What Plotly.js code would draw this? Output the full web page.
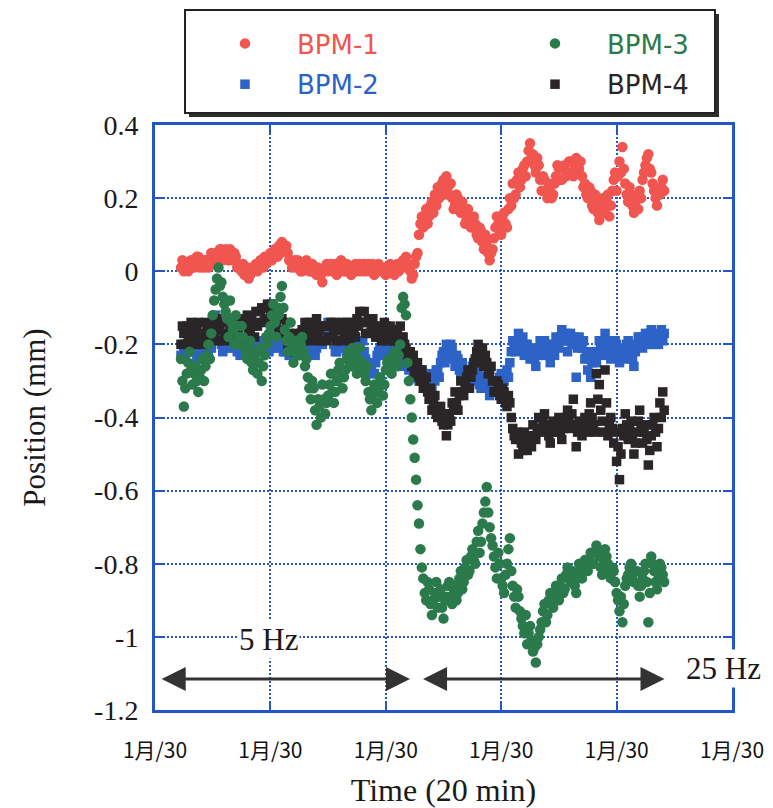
<!DOCTYPE html>
<html>
<head>
<meta charset="utf-8">
<script src="https://cdn.plot.ly/plotly-3.0.1.min.js"></script>
<style>
  html, body { margin: 0; padding: 0; background: #ffffff; }
  #chart { width: 773px; height: 808px; }
</style>
</head>
<body>
<div id="chart"></div>
<script>
// Beam position monitor readings, logged every 15 s on the same day.
// Elapsed minutes from 10:00, one row per 5 minutes.
const minutes = [
  4.5, 4.75, 5, 5.25, 5.5, 5.75, 6, 6.25, 6.5, 6.75, 7, 7.25, 7.5, 7.75, 8, 8.25, 8.5, 8.75, 9, 9.25,
  9.5, 9.75, 10, 10.25, 10.5, 10.75, 11, 11.25, 11.5, 11.75, 12, 12.25, 12.5, 12.75, 13, 13.25, 13.5, 13.75, 14, 14.25,
  14.5, 14.75, 15, 15.25, 15.5, 15.75, 16, 16.25, 16.5, 16.75, 17, 17.25, 17.5, 17.75, 18, 18.25, 18.5, 18.75, 19, 19.25,
  19.5, 19.75, 20, 20.25, 20.5, 20.75, 21, 21.25, 21.5, 21.75, 22, 22.25, 22.5, 22.75, 23, 23.25, 23.5, 23.75, 24, 24.25,
  24.5, 24.75, 25, 25.25, 25.5, 25.75, 26, 26.25, 26.5, 26.75, 27, 27.25, 27.5, 27.75, 28, 28.25, 28.5, 28.75, 29, 29.25,
  29.5, 29.75, 30, 30.25, 30.5, 30.75, 31, 31.25, 31.5, 31.75, 32, 32.25, 32.5, 32.75, 33, 33.25, 33.5, 33.75, 34, 34.25,
  34.5, 34.75, 35, 35.25, 35.5, 35.75, 36, 36.25, 36.5, 36.75, 37, 37.25, 37.5, 37.75, 38, 38.25, 38.5, 38.75, 39, 39.25,
  39.5, 39.75, 40, 40.25, 40.5, 40.75, 41, 41.25, 41.5, 41.75, 42, 42.25, 42.5, 42.75, 43, 43.25, 43.5, 43.75, 44, 44.25,
  44.5, 44.75, 45, 45.25, 45.5, 45.75, 46, 46.25, 46.5, 46.75, 47, 47.25, 47.5, 47.75, 48, 48.25, 48.5, 48.75, 49, 49.25,
  49.5, 49.75, 50, 50.25, 50.5, 50.75, 51, 51.25, 51.5, 51.75, 52, 52.25, 52.5, 52.75, 53, 53.25, 53.5, 53.75, 54, 54.25,
  54.5, 54.75, 55, 55.25, 55.5, 55.75, 56, 56.25, 56.5, 56.75, 57, 57.25, 57.5, 57.75, 58, 58.25, 58.5, 58.75, 59, 59.25,
  59.5, 59.75, 60, 60.25, 60.5, 60.75, 61, 61.25, 61.5, 61.75, 62, 62.25, 62.5, 62.75, 63, 63.25, 63.5, 63.75, 64, 64.25,
  64.5, 64.75, 65, 65.25, 65.5, 65.75, 66, 66.25, 66.5, 66.75, 67, 67.25, 67.5, 67.75, 68, 68.25, 68.5, 68.75, 69, 69.25,
  69.5, 69.75, 70, 70.25, 70.5, 70.75, 71, 71.25, 71.5, 71.75, 72, 72.25, 72.5, 72.75, 73, 73.25, 73.5, 73.75, 74, 74.25,
  74.5, 74.75, 75, 75.25, 75.5, 75.75, 76, 76.25, 76.5, 76.75, 77, 77.25, 77.5, 77.75, 78, 78.25, 78.5, 78.75, 79, 79.25,
  79.5, 79.75, 80, 80.25, 80.5, 80.75, 81, 81.25, 81.5, 81.75, 82, 82.25, 82.5, 82.75, 83, 83.25, 83.5, 83.75, 84, 84.25,
  84.5, 84.75, 85, 85.25, 85.5, 85.75, 86, 86.25, 86.5, 86.75, 87, 87.25, 87.5, 87.75, 88, 88.25
];

// Position (mm)
const bpm1 = [
  0.01, 0.03, 0.00, 0.02, 0.02, 0.00, 0.01, 0.03, 0.03, 0.01, 0.02, 0.04, 0.04, 0.01, 0.02, 0.03, 0.01, 0.03, 0.03, 0.01,
  0.02, 0.05, 0.04, 0.02, 0.05, 0.03, 0.03, 0.06, 0.06, 0.03, 0.04, 0.06, 0.05, 0.03, 0.06, 0.04, 0.03, 0.05, 0.04, 0.01,
  0.02, 0.01, 0.00, 0.02, -0.01, 0.01, 0.01, -0.02, -0.01, 0.01, 0.00, 0.01, 0.02, 0.00, 0.01, 0.03, 0.03, 0.01, 0.04, 0.02,
  0.03, 0.04, 0.05, 0.03, 0.04, 0.06, 0.06, 0.04, 0.07, 0.05, 0.08, 0.06, 0.06, 0.07, 0.05, 0.03, 0.03, 0.01, 0.02, 0.03,
  0.01, 0.03, 0.02, 0.00, 0.00, 0.02, 0.01, 0.03, 0.02, 0.00, 0.00, 0.02, 0.01, 0.00, -0.01, 0.01, 0.00, -0.01, -0.03, 0.00,
  0.01, 0.02, 0.00, 0.01, 0.02, 0.00, 0.01, 0.02, -0.01, 0.00, 0.01, 0.03, 0.02, 0.00, 0.00, 0.02, 0.01, 0.00, -0.01, 0.01,
  0.01, 0.02, 0.00, 0.01, 0.02, 0.00, 0.01, 0.02, 0.00, 0.01, 0.02, 0.00, 0.01, 0.02, -0.01, 0.01, 0.00, 0.02, 0.01, 0.00,
  0.00, 0.01, -0.01, 0.00, 0.01, 0.02, 0.00, 0.01, -0.01, 0.00, 0.02, 0.00, 0.01, 0.02, 0.03, 0.01, 0.04, 0.01, 0.02, 0.00,
  -0.02, -0.01, 0.02, 0.04, 0.05, 0.10, 0.13, 0.15, 0.12, 0.14, 0.17, 0.13, 0.15, 0.18, 0.19, 0.16, 0.21, 0.18, 0.23, 0.20,
  0.22, 0.24, 0.25, 0.21, 0.26, 0.23, 0.21, 0.24, 0.20, 0.17, 0.18, 0.21, 0.20, 0.17, 0.16, 0.19, 0.17, 0.13, 0.14, 0.17,
  0.15, 0.12, 0.12, 0.15, 0.13, 0.10, 0.09, 0.12, 0.11, 0.08, 0.06, 0.10, 0.08, 0.05, 0.03, 0.05, 0.06, 0.09, 0.12, 0.15,
  0.13, 0.11, 0.10, 0.14, 0.16, 0.13, 0.12, 0.17, 0.20, 0.18, 0.24, 0.20, 0.21, 0.25, 0.27, 0.23, 0.25, 0.28, 0.29, 0.26,
  0.30, 0.33, 0.35, 0.31, 0.32, 0.29, 0.27, 0.31, 0.29, 0.25, 0.22, 0.26, 0.25, 0.22, 0.20, 0.24, 0.23, 0.20, 0.21, 0.24,
  0.26, 0.29, 0.28, 0.25, 0.25, 0.28, 0.29, 0.26, 0.27, 0.30, 0.30, 0.27, 0.26, 0.29, 0.31, 0.27, 0.28, 0.30, 0.26, 0.23,
  0.24, 0.21, 0.20, 0.23, 0.22, 0.18, 0.17, 0.21, 0.19, 0.16, 0.14, 0.18, 0.20, 0.17, 0.16, 0.19, 0.21, 0.15, 0.18, 0.22,
  0.25, 0.27, 0.22, 0.26, 0.30, 0.27, 0.34, 0.28, 0.24, 0.21, 0.19, 0.23, 0.21, 0.18, 0.16, 0.19, 0.20, 0.17, 0.22, 0.20,
  0.25, 0.27, 0.29, 0.31, 0.32, 0.28, 0.27, 0.24, 0.22, 0.20, 0.18, 0.22, 0.21, 0.23, 0.25, 0.22
];

const bpm2 = [
  -0.23, -0.20, -0.21, -0.23, -0.20, -0.22, -0.22, -0.20, -0.19, -0.22, -0.21, -0.24, -0.23, -0.21, -0.20, -0.22, -0.18, -0.20, -0.21, -0.22,
  -0.19, -0.21, -0.16, -0.14, -0.12, -0.15, -0.17, -0.19, -0.20, -0.22, -0.18, -0.20, -0.21, -0.19, -0.19, -0.21, -0.17, -0.19, -0.20, -0.22,
  -0.21, -0.23, -0.19, -0.21, -0.22, -0.20, -0.20, -0.22, -0.18, -0.20, -0.21, -0.23, -0.20, -0.21, -0.22, -0.20, -0.19, -0.22, -0.21, -0.19,
  -0.20, -0.22, -0.18, -0.20, -0.21, -0.19, -0.19, -0.21, -0.17, -0.19, -0.20, -0.22, -0.22, -0.20, -0.21, -0.23, -0.23, -0.21, -0.21, -0.23,
  -0.22, -0.21, -0.20, -0.22, -0.23, -0.20, -0.21, -0.23, -0.19, -0.21, -0.22, -0.20, -0.20, -0.23, -0.21, -0.19, -0.18, -0.20, -0.20, -0.18,
  -0.17, -0.15, -0.14, -0.16, -0.16, -0.18, -0.20, -0.22, -0.22, -0.20, -0.19, -0.21, -0.21, -0.19, -0.20, -0.22, -0.22, -0.20, -0.21, -0.23,
  -0.20, -0.21, -0.22, -0.20, -0.21, -0.23, -0.19, -0.22, -0.24, -0.26, -0.27, -0.25, -0.26, -0.28, -0.28, -0.25, -0.23, -0.22, -0.21, -0.23,
  -0.20, -0.23, -0.22, -0.20, -0.21, -0.22, -0.20, -0.22, -0.23, -0.21, -0.22, -0.24, -0.24, -0.22, -0.23, -0.26, -0.25, -0.24, -0.27, -0.25,
  -0.26, -0.29, -0.28, -0.26, -0.27, -0.30, -0.30, -0.27, -0.28, -0.30, -0.31, -0.28, -0.29, -0.31, -0.32, -0.29, -0.30, -0.27, -0.27, -0.29,
  -0.25, -0.23, -0.22, -0.25, -0.20, -0.22, -0.23, -0.20, -0.21, -0.24, -0.26, -0.23, -0.24, -0.27, -0.28, -0.25, -0.27, -0.29, -0.30, -0.27,
  -0.28, -0.30, -0.26, -0.28, -0.30, -0.27, -0.28, -0.31, -0.32, -0.29, -0.29, -0.32, -0.31, -0.29, -0.34, -0.31, -0.30, -0.32, -0.33, -0.30,
  -0.31, -0.29, -0.28, -0.31, -0.30, -0.28, -0.27, -0.29, -0.25, -0.22, -0.19, -0.21, -0.22, -0.19, -0.17, -0.20, -0.21, -0.18, -0.23, -0.20,
  -0.20, -0.22, -0.24, -0.21, -0.22, -0.24, -0.26, -0.23, -0.21, -0.19, -0.23, -0.21, -0.19, -0.23, -0.22, -0.20, -0.25, -0.22, -0.20, -0.23,
  -0.18, -0.20, -0.21, -0.18, -0.16, -0.19, -0.19, -0.17, -0.22, -0.19, -0.17, -0.20, -0.20, -0.18, -0.29, -0.21, -0.18, -0.20, -0.21, -0.19,
  -0.24, -0.22, -0.27, -0.24, -0.29, -0.25, -0.22, -0.24, -0.25, -0.22, -0.19, -0.21, -0.23, -0.20, -0.17, -0.19, -0.21, -0.23, -0.24, -0.21,
  -0.22, -0.19, -0.20, -0.23, -0.25, -0.22, -0.21, -0.24, -0.23, -0.20, -0.19, -0.21, -0.22, -0.24, -0.26, -0.22, -0.20, -0.18, -0.18, -0.20,
  -0.21, -0.18, -0.17, -0.20, -0.19, -0.17, -0.16, -0.18, -0.20, -0.17, -0.18, -0.20, -0.17, -0.16, -0.19, -0.17
];

const bpm3 = [
  -0.24, -0.30, -0.37, -0.32, -0.28, -0.25, -0.22, -0.27, -0.31, -0.28, -0.26, -0.30, -0.33, -0.29, -0.27, -0.24, -0.30, -0.26, -0.23, -0.20,
  -0.24, -0.17, -0.12, -0.08, -0.05, -0.02, 0.01, -0.04, -0.03, -0.07, -0.09, -0.11, -0.13, -0.18, -0.08, -0.14, -0.16, -0.20, -0.12, -0.15,
  -0.18, -0.20, -0.15, -0.18, -0.21, -0.23, -0.24, -0.21, -0.19, -0.25, -0.27, -0.23, -0.22, -0.28, -0.25, -0.21, -0.30, -0.26, -0.23, -0.18,
  -0.20, -0.17, -0.15, -0.12, -0.09, -0.14, -0.18, -0.10, -0.12, -0.07, -0.04, -0.10, -0.16, -0.19, -0.22, -0.18, -0.14, -0.20, -0.25, -0.22,
  -0.19, -0.21, -0.23, -0.20, -0.18, -0.22, -0.26, -0.24, -0.29, -0.32, -0.35, -0.30, -0.32, -0.38, -0.42, -0.35, -0.37, -0.40, -0.31, -0.35,
  -0.39, -0.36, -0.34, -0.31, -0.28, -0.33, -0.36, -0.33, -0.30, -0.27, -0.25, -0.29, -0.32, -0.29, -0.27, -0.24, -0.22, -0.25, -0.26, -0.21,
  -0.23, -0.26, -0.28, -0.24, -0.21, -0.27, -0.25, -0.28, -0.30, -0.26, -0.33, -0.35, -0.38, -0.34, -0.31, -0.33, -0.36, -0.32, -0.29, -0.31,
  -0.34, -0.31, -0.27, -0.25, -0.24, -0.26, -0.28, -0.24, -0.22, -0.25, -0.26, -0.23, -0.20, -0.10, -0.07, -0.09, -0.12, -0.25, -0.30, -0.35,
  -0.40, -0.46, -0.51, -0.57, -0.64, -0.69, -0.76, -0.81, -0.84, -0.88, -0.90, -0.85, -0.87, -0.91, -0.94, -0.90, -0.88, -0.85, -0.92, -0.89,
  -0.87, -0.92, -0.95, -0.90, -0.89, -0.86, -0.85, -0.89, -0.91, -0.87, -0.86, -0.90, -0.88, -0.84, -0.82, -0.87, -0.85, -0.81, -0.79, -0.83,
  -0.82, -0.78, -0.76, -0.79, -0.80, -0.74, -0.71, -0.77, -0.74, -0.69, -0.66, -0.63, -0.59, -0.66, -0.70, -0.73, -0.75, -0.78, -0.81, -0.84,
  -0.77, -0.80, -0.84, -0.86, -0.88, -0.83, -0.80, -0.76, -0.73, -0.82, -0.86, -0.89, -0.92, -0.87, -0.89, -0.93, -0.95, -0.97, -0.99, -0.94,
  -1.02, -0.99, -0.97, -1.01, -1.04, -1.03, -1.07, -1.02, -1.00, -0.98, -0.96, -0.93, -0.91, -0.96, -0.94, -0.90, -0.88, -0.91, -0.92, -0.89,
  -0.86, -0.88, -0.90, -0.86, -0.84, -0.88, -0.87, -0.83, -0.81, -0.84, -0.85, -0.82, -0.83, -0.86, -0.88, -0.84, -0.80, -0.82, -0.84, -0.81,
  -0.79, -0.81, -0.82, -0.79, -0.77, -0.80, -0.80, -0.77, -0.75, -0.77, -0.78, -0.81, -0.83, -0.79, -0.76, -0.78, -0.80, -0.82, -0.84, -0.81,
  -0.82, -0.85, -0.88, -0.90, -0.93, -0.89, -0.96, -0.91, -0.86, -0.84, -0.83, -0.81, -0.80, -0.83, -0.85, -0.82, -0.82, -0.86, -0.89, -0.86,
  -0.84, -0.82, -0.80, -0.85, -0.96, -0.88, -0.78, -0.80, -0.82, -0.85, -0.87, -0.83, -0.80, -0.81, -0.83, -0.85
];

const bpm4 = [
  -0.20, -0.15, -0.17, -0.20, -0.15, -0.18, -0.19, -0.14, -0.16, -0.20, -0.18, -0.15, -0.14, -0.18, -0.17, -0.20, -0.19, -0.14, -0.15, -0.19,
  -0.17, -0.14, -0.13, -0.18, -0.16, -0.13, -0.19, -0.15, -0.14, -0.19, -0.17, -0.14, -0.13, -0.18, -0.15, -0.19, -0.18, -0.13, -0.14, -0.18,
  -0.16, -0.13, -0.19, -0.15, -0.14, -0.18, -0.12, -0.16, -0.17, -0.13, -0.15, -0.18, -0.11, -0.15, -0.14, -0.11, -0.10, -0.14, -0.13, -0.10,
  -0.09, -0.13, -0.12, -0.09, -0.10, -0.15, -0.14, -0.11, -0.16, -0.13, -0.13, -0.17, -0.17, -0.14, -0.20, -0.17, -0.22, -0.19, -0.19, -0.21,
  -0.17, -0.19, -0.21, -0.17, -0.16, -0.19, -0.14, -0.17, -0.18, -0.14, -0.15, -0.19, -0.17, -0.14, -0.13, -0.17, -0.16, -0.19, -0.19, -0.15,
  -0.15, -0.19, -0.18, -0.15, -0.14, -0.18, -0.17, -0.14, -0.19, -0.16, -0.16, -0.19, -0.14, -0.17, -0.18, -0.14, -0.15, -0.19, -0.17, -0.14,
  -0.16, -0.18, -0.13, -0.15, -0.11, -0.14, -0.14, -0.11, -0.17, -0.14, -0.13, -0.17, -0.16, -0.13, -0.15, -0.18, -0.18, -0.15, -0.16, -0.19,
  -0.17, -0.14, -0.15, -0.19, -0.18, -0.15, -0.16, -0.19, -0.19, -0.16, -0.17, -0.19, -0.15, -0.18, -0.18, -0.20, -0.21, -0.23, -0.24, -0.22,
  -0.26, -0.23, -0.28, -0.27, -0.25, -0.29, -0.30, -0.27, -0.32, -0.30, -0.29, -0.33, -0.35, -0.32, -0.38, -0.36, -0.34, -0.39, -0.40, -0.37,
  -0.37, -0.41, -0.42, -0.39, -0.45, -0.42, -0.39, -0.41, -0.36, -0.38, -0.33, -0.36, -0.38, -0.34, -0.30, -0.33, -0.34, -0.31, -0.29, -0.27,
  -0.32, -0.29, -0.27, -0.25, -0.24, -0.22, -0.20, -0.25, -0.23, -0.21, -0.26, -0.23, -0.25, -0.28, -0.28, -0.26, -0.30, -0.33, -0.33, -0.30,
  -0.31, -0.34, -0.35, -0.32, -0.33, -0.36, -0.37, -0.34, -0.36, -0.40, -0.43, -0.45, -0.46, -0.44, -0.50, -0.46, -0.47, -0.49, -0.44, -0.47,
  -0.49, -0.46, -0.45, -0.48, -0.42, -0.45, -0.46, -0.43, -0.40, -0.43, -0.44, -0.41, -0.39, -0.42, -0.43, -0.45, -0.47, -0.44, -0.41, -0.43,
  -0.44, -0.42, -0.40, -0.44, -0.46, -0.43, -0.42, -0.40, -0.38, -0.41, -0.43, -0.39, -0.35, -0.42, -0.48, -0.44, -0.41, -0.43, -0.45, -0.42,
  -0.40, -0.42, -0.44, -0.39, -0.36, -0.40, -0.42, -0.44, -0.28, -0.35, -0.31, -0.38, -0.41, -0.44, -0.27, -0.36, -0.45, -0.42, -0.40, -0.43,
  -0.47, -0.44, -0.52, -0.48, -0.57, -0.50, -0.43, -0.45, -0.39, -0.42, -0.46, -0.43, -0.41, -0.45, -0.50, -0.47, -0.44, -0.41, -0.38, -0.43,
  -0.47, -0.44, -0.42, -0.46, -0.53, -0.49, -0.45, -0.42, -0.40, -0.44, -0.48, -0.43, -0.36, -0.40, -0.33, -0.38
];

const seriesNames = ['BPM-1', 'BPM-2', 'BPM-3', 'BPM-4'];
const yTickVals = [-1.2, -1, -0.8, -0.6, -0.4, -0.2, 0, 0.2, 0.4];
const yTickText = ['-1.2', '-1', '-0.8', '-0.6', '-0.4', '-0.2', '0', '0.2', '0.4'];

// Clock helpers: elapsed minutes -> timestamp on the measurement day
const DAY = '2008-01-30';
const START_HOUR = 10;
function pad(n) { return String(n).padStart(2, '0'); }
function stamp(min) {
  const sec = Math.round(min * 60);
  const h = START_HOUR + Math.floor(sec / 3600);
  const m = Math.floor((sec % 3600) / 60);
  const s = sec % 60;
  return DAY + ' ' + pad(h) + ':' + pad(m) + ':' + pad(s);
}
const times = minutes.map(stamp);

const COLORS = { red: '#f0564f', blue: '#2d62c6', green: '#2b7a4c', black: '#2a2526' };
const AXIS_BLUE = '#2456c8';
const SERIF = 'Liberation Serif, Times New Roman, serif';
const SANS = 'DejaVu Sans, Noto Sans, sans-serif';

function label(text, color) {
  return '<span style="color:' + color + '">' + text + '</span>';
}

// drawing order: red, blue, black, green (green on top)
const traces = [
  { y: bpm1, name: label(seriesNames[0], COLORS.red), color: COLORS.red, symbol: 'circle', size: 10.5, legend: 'legend', rank: 1 },
  { y: bpm2, name: label(seriesNames[1], COLORS.blue), color: COLORS.blue, symbol: 'square', size: 9.5, legend: 'legend', rank: 2 },
  { y: bpm4, name: label(seriesNames[3], COLORS.black), color: COLORS.black, symbol: 'square', size: 9.5, legend: 'legend2', rank: 2 },
  { y: bpm3, name: label(seriesNames[2], COLORS.green), color: COLORS.green, symbol: 'circle', size: 10.5, legend: 'legend2', rank: 1 }
].map((s, i) => ({
  type: 'scatter',
  mode: 'markers',
  x: times,
  y: s.y,
  name: s.name,
  legend: s.legend,
  legendrank: s.rank,
  legendgroup: 'g' + i,
  marker: { color: s.color, symbol: s.symbol, size: s.size, line: { width: 0 } },
  hoverinfo: 'x+y+name'
}));

// Plot area in paper coordinates: 155..732 px wide, 125..710 px tall
const W = 773, H = 808;
const M = { l: 155, r: 41, t: 125, b: 98 };
const pw = W - M.l - M.r, ph = H - M.t - M.b;
const px = x => (x - M.l) / pw;
const py = y => (H - M.b - y) / ph;

const arrowY = -1.115;
function arrow(fromMin, toMin) {
  return {
    xref: 'x', yref: 'y', axref: 'x', ayref: 'y',
    x: stamp(toMin), y: arrowY, ax: stamp(fromMin), ay: arrowY,
    text: '', showarrow: true, arrowside: 'end+start',
    arrowhead: 2, startarrowhead: 2, arrowsize: 1.6, startarrowsize: 1.6,
    arrowwidth: 3, arrowcolor: '#333333', standoff: 0, startstandoff: 0
  };
}

const layout = {
  width: W, height: H,
  margin: M,
  paper_bgcolor: '#ffffff',
  plot_bgcolor: '#ffffff',
  showlegend: true,
  xaxis: {
    type: 'date',
    range: [stamp(0), stamp(100)],
    tick0: stamp(0),
    dtick: 20 * 60 * 1000,
    tickformat: '%-m月/%d',
    showgrid: true, gridcolor: AXIS_BLUE, gridwidth: 2, griddash: '2px,2px',
    showline: true, linecolor: AXIS_BLUE, linewidth: 3, mirror: 'ticks',
    ticks: 'inside', ticklen: 9, tickwidth: 2, tickcolor: AXIS_BLUE,
    ticklabelstandoff: 20,
    tickfont: { family: 'Noto Sans CJK JP, sans-serif', size: 21, color: '#111111' },
    title: { text: 'Time (20 min)', font: { family: SERIF, size: 32, color: '#1a1a1a' }, standoff: 18 },
    zeroline: false, fixedrange: true
  },
  yaxis: {
    range: [-1.2, 0.4],
    tickvals: yTickVals, ticktext: yTickText,
    showgrid: true, gridcolor: AXIS_BLUE, gridwidth: 2, griddash: '2px,2px',
    showline: true, linecolor: AXIS_BLUE, linewidth: 3, mirror: 'ticks',
    ticks: 'inside', ticklen: 9, tickwidth: 2, tickcolor: AXIS_BLUE,
    ticklabelstandoff: 8,
    tickfont: { family: SERIF, size: 28, color: '#1a1a1a' },
    title: { text: 'Position (mm)', font: { family: SERIF, size: 31, color: '#1a1a1a' }, standoff: 40 },
    zeroline: false, fixedrange: true
  },
  legend: {
    x: px(193), xanchor: 'left', y: py(20), yanchor: 'top',
    orientation: 'v', bgcolor: 'rgba(0,0,0,0)', borderwidth: 0,
    itemwidth: 94, tracegroupgap: 4,
    font: { family: SANS, size: 26 }
  },
  legend2: {
    x: px(503), xanchor: 'left', y: py(20), yanchor: 'top',
    orientation: 'v', bgcolor: 'rgba(0,0,0,0)', borderwidth: 0,
    itemwidth: 94, tracegroupgap: 4,
    font: { family: SANS, size: 26 }
  },
  shapes: [
    // legend frame: drop shadow, then the white box
    { type: 'rect', xref: 'paper', yref: 'paper', layer: 'above',
      x0: px(189), x1: px(719), y0: py(117), y1: py(14),
      fillcolor: '#2e2e2e', line: { width: 0 } },
    { type: 'rect', xref: 'paper', yref: 'paper', layer: 'above',
      x0: px(185), x1: px(715), y0: py(113), y1: py(10),
      fillcolor: '#ffffff', line: { color: '#222222', width: 2 } }
  ],
  annotations: [
    arrow(0.9, 44.2),
    arrow(46.2, 88.3),
    { xref: 'x', yref: 'y', x: stamp(19.6), y: -1.007, text: '5 Hz', showarrow: false,
      xanchor: 'center', yanchor: 'middle',
      bgcolor: '#ffffff', borderpad: 1, font: { family: SERIF, size: 31, color: '#1a1a1a' } },
    { xref: 'paper', yref: 'y', x: px(723), y: -1.087, text: '25 Hz', showarrow: false,
      xanchor: 'center', yanchor: 'middle',
      bgcolor: '#ffffff', borderpad: 1, font: { family: SERIF, size: 31, color: '#1a1a1a' } }
  ]
};

Plotly.newPlot('chart', traces, layout, { displayModeBar: false, responsive: false });
</script>
</body>
</html>
